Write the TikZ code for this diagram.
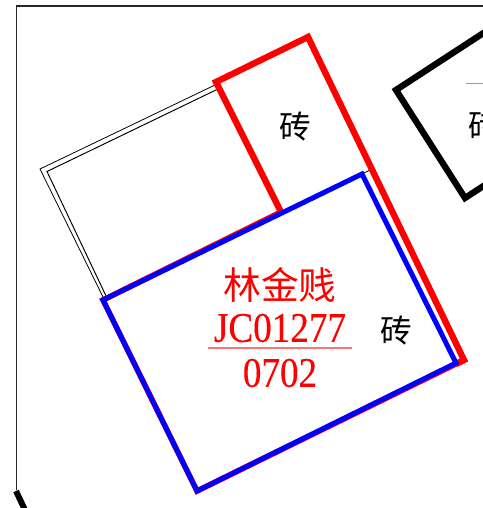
\documentclass[tikz,border=0pt]{standalone}
\usepackage{fontspec}
\usepackage{tikz}
\setmainfont{Liberation Serif}
\newfontfamily\cjkfont{Noto Sans CJK SC}
\newfontfamily\codefont[FakeStretch=0.88,FakeBold=0.3]{Liberation Serif}
\tikzset{redline/.style = {draw=red, line width = 3.6, miter limit = 10}}
\tikzset{redfringe/.style = {draw=red, line width = 3.2}}
\tikzset{blueline/.style = {draw=blue, line width = 2.85}}
\tikzset{brick/.style = {font=\cjkfont\fontsize{18}{18}\selectfont, inner sep = 0}}
\tikzset{owner/.style = {text=red, inner sep = 0}}
\begin{document}
\begin{tikzpicture}[x=0.02cm, y=-0.02cm]
      \useasboundingbox (0, 0) rectangle (483, 508);
      \clip (0, 0) rectangle (483, 508);

      % sheet frame
      \draw [line width = 0.6, black!85] (483, 6) -- (16.5, 6) -- (16.5, 490);
      \draw [line width = 3.4] (16, 491) -- (25, 510);

      % walls
      \draw [line width = 0.45] (216, 84.5) -- (40, 169) -- (103.5, 298);
      \draw [line width = 0.55] (218, 89) -- (47, 171.5) -- (107, 298);
      \draw [line width = 0.45] (362, 174) -- (369, 170.5);

      \draw [redfringe] (462, 361) -- (197, 491) -- (103, 300) -- (281, 212);
      \draw [redline] (281, 212) -- (216, 82) -- (308, 37) -- (464, 360) -- (456, 364);
      \draw [blueline] (103, 300) -- (362, 174) -- (456, 363) -- (197, 491) -- cycle;

      \draw [line width = 3.6] (485, 32) -- (396, 90) -- (465, 198) -- (485, 185);
      \draw [red!55, line width = 0.6] (466, 83.5) -- (485, 83.5);

      \node [brick] (brickA) at (295, 127) {砖};
      \node [brick] (brickB) at (396, 331) {砖};
      \node [brick, anchor=west] (brickC) at (468, 126) {砖};

      \node [owner, font=\cjkfont\fontsize{21.5}{21.5}\selectfont] (name) at (280, 285) {林金贱};
      \node [owner, font=\codefont\fontsize{24}{24}\selectfont] (code) at (280, 328) {JC01277};
      \node [owner, font=\codefont\fontsize{24}{24}\selectfont] (area) at (280, 373) {0702};
      \draw [red!55, line width = 0.6] (208, 348) -- (352, 348);
    \end{tikzpicture}
\end{document}
